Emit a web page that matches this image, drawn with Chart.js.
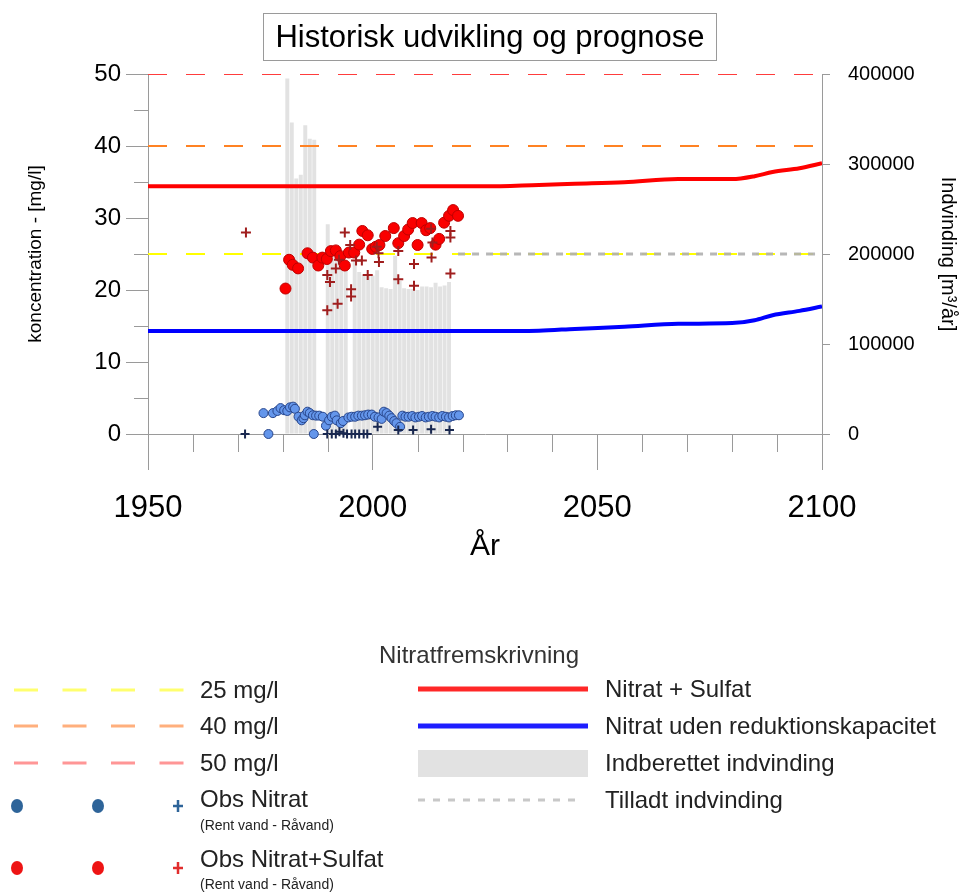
<!DOCTYPE html>
<html>
<head>
<meta charset="utf-8">
<script src="https://cdn.jsdelivr.net/npm/chart.js@4/dist/chart.umd.min.js"></script>
<style>
html,body{margin:0;padding:0;background:#ffffff;}
#wrap{width:960px;height:892px;position:relative;}
</style>
</head>
<body>
<div id="wrap"><canvas id="c" width="960" height="892"></canvas></div>
<script>
// ---------- DATA ----------
const chartTitle = 'Historisk udvikling og prognose';
const xTitle = 'År';
const yTitle = 'koncentration - [mg/l]';
const y2Title = 'Indvinding [m³/år]';
const legendTitle = 'Nitratfremskrivning';

const xTickValues = [1950, 2000, 2050, 2100];
const xMinorTicks = [1960, 1970, 1980, 1990, 2010, 2020, 2030, 2040, 2060, 2070, 2080, 2090];
const yTickValues = [0, 10, 20, 30, 40, 50];
const yMinorTicks = [5, 15, 25, 35, 45];
const y2TickValues = [0, 100000, 200000, 300000, 400000];

// Reported abstraction (m3/year), bars
const barYears = [1981,1982,1983,1984,1985,1986,1987,1988,1989,1990,1991,1992,1993,1994,1995,1996,1997,1998,1999,2000,2001,2002,2003,2004,2005,2006,2007,2008,2009,2010,2011,2012,2013,2014,2015,2016,2017];
const barValues = [395000,346000,284000,288000,343000,328000,327000,0,0,233000,200000,198000,195000,188000,0,193000,180000,177000,176000,176000,182000,163000,162000,161000,198000,170000,162000,161000,161000,160000,164000,164000,163000,168000,164000,165000,169000];

// Permitted abstraction
const tilladtYears = [2019, 2100];
const tilladtValues = [200000, 200000];

// Limit lines
const limitYears = [1950, 2100];
const limitValues = [25, 40, 50];
const limitLabels = ['25 mg/l', '40 mg/l', '50 mg/l'];

// Projections
const projYears = [1950, 2025, 2037, 2045, 2056, 2068, 2080, 2085, 2089, 2095, 2100];
const projNitratSulfat = [34.4, 34.4, 34.6, 34.75, 34.95, 35.4, 35.4, 35.8, 36.4, 36.9, 37.6];
const projNitrat = [14.3, 14.3, 14.35, 14.6, 14.9, 15.3, 15.4, 15.8, 16.5, 17.1, 17.7];

// Observations Nitrat (rent vand = circles, råvand = crosses)
const obsNitratYears = [1975.7,1976.8,1977.8,1978.8,1979.5,1980.3,1981.0,1981.6,1982.3,1982.7,1983.5,1984.2,1984.6,1984.9,1985.5,1986.0,1986.7,1986.9,1987.4,1988.1,1988.9,1989.6,1990.3,1990.9,1991.6,1992.0,1992.9,1993.4,1994.6,1995.3,1996.1,1996.8,1997.6,1998.3,1999.0,1999.8,2000.5,2001.3,2002.0,2002.5,2003.1,2003.7,2004.2,2004.8,2005.3,2006.1,2006.6,2007.3,2008.0,2008.8,2009.5,2010.3,2011.0,2011.8,2012.5,2013.3,2014.0,2014.8,2015.5,2016.3,2017.0,2017.8,2018.5,2019.2];
const obsNitratValues = [2.9,0.0,2.9,3.2,3.6,3.3,3.2,3.7,3.8,3.5,2.4,1.9,2.2,2.6,3.1,2.9,2.6,0.0,2.55,2.55,2.4,1.15,1.9,2.4,2.55,1.9,1.5,1.8,2.3,2.4,2.4,2.55,2.55,2.6,2.7,2.7,2.4,2.3,2.1,3.1,2.9,2.55,2.2,1.8,1.5,1.0,2.55,2.4,2.4,2.5,2.3,2.4,2.5,2.3,2.4,2.5,2.4,2.3,2.5,2.4,2.3,2.5,2.6,2.6];
const obsNitratRaaYears = [1971.6,1989.9,1990.9,1991.8,1992.6,1993.5,1994.3,1995.3,1996.1,1997.0,1998.0,1998.8,2001.1,2005.7,2009.0,2013.0,2017.1];
const obsNitratRaaValues = [0,0,0,0,0.3,0.1,0,0,0,0,0,0,1.0,0.55,0.55,0.65,0.55];

// Observations Nitrat+Sulfat
const obsSulfatYears = [1980.6,1981.4,1982.2,1983.4,1985.5,1986.7,1987.9,1988.8,1989.8,1990.7,1991.8,1992.8,1993.8,1994.7,1995.9,1997.0,1997.7,1998.9,1999.9,2000.7,2001.5,2002.8,2004.7,2005.7,2007.0,2007.9,2008.9,2010.0,2010.9,2011.9,2012.8,2014.0,2014.8,2015.9,2017.0,2017.9,2019.0];
const obsSulfatValues = [20.2,24.2,23.5,23.0,25.1,24.5,23.4,24.5,24.3,25.4,25.5,24.7,23.4,25.2,25.2,26.3,28.2,27.6,25.7,26.0,26.25,27.5,28.6,26.5,27.5,28.4,29.3,26.25,29.3,28.3,28.6,26.3,27.1,29.35,30.3,31.1,30.3];
const obsSulfatRaaYears = [1971.8,1989.9,1990.5,1989.9,1992.2,1991.8,1992.5,1993.8,1995.0,1995.2,1995.2,1996.3,1997.6,1998.9,2000.9,2001.3,2001.4,2005.7,2005.7,2009.2,2009.2,2013.0,2013.3,2013.1,2017.3,2017.3,2017.3];
const obsSulfatRaaValues = [28.0,22.1,21.1,17.2,18.1,23.0,24.2,28.0,26.25,20.1,19.1,24.1,24.1,22.1,26.0,25.1,23.9,25.4,21.5,23.6,20.6,28.5,26.6,24.5,28.2,27.3,22.3];

// ---------- STYLE ----------
const FONT = '"Liberation Sans", Arial, Helvetica, sans-serif';
const AXIS_GRAY = '#9a9a9a';
const limitColors = ['rgb(255,255,0)', 'rgb(255,130,35)', 'rgb(255,60,60)'];
const limitLegendColors = ['rgb(255,255,110)', 'rgb(255,175,125)', 'rgb(255,150,150)'];

function toXY(xs, ys) { return xs.map((x, i) => ({x: x, y: ys[i]})); }

const datasets = [];
datasets.push({
  type: 'scatter', label: 'Obs Nitrat+Sulfat (Råvand)',
  data: toXY(obsSulfatRaaYears, obsSulfatRaaValues),
  pointStyle: 'cross', pointRadius: 5, pointBorderWidth: 2,
  borderColor: 'rgb(160,30,30)', backgroundColor: 'rgb(160,30,30)',
  yAxisID: 'y', order: 1, clip: false
});
datasets.push({
  type: 'scatter', label: 'Obs Nitrat+Sulfat (Rent vand)',
  data: toXY(obsSulfatYears, obsSulfatValues),
  pointStyle: 'circle', pointRadius: 5.5, pointBorderWidth: 1,
  borderColor: 'rgb(190,0,0)', backgroundColor: 'rgb(250,0,0)',
  yAxisID: 'y', order: 2, clip: false
});
datasets.push({
  type: 'scatter', label: 'Obs Nitrat (Råvand)',
  data: toXY(obsNitratRaaYears, obsNitratRaaValues),
  pointStyle: 'cross', pointRadius: 4.5, pointBorderWidth: 2,
  borderColor: 'rgb(25,40,80)', backgroundColor: 'rgb(25,40,80)',
  yAxisID: 'y', order: 3, clip: false
});
datasets.push({
  type: 'scatter', label: 'Obs Nitrat (Rent vand)',
  data: toXY(obsNitratYears, obsNitratValues),
  pointStyle: 'circle', pointRadius: 4.5, pointBorderWidth: 1,
  borderColor: 'rgb(40,70,140)', backgroundColor: 'rgb(100,150,235)',
  yAxisID: 'y', order: 4, clip: false
});
datasets.push({
  type: 'line', label: 'Nitrat + Sulfat',
  data: toXY(projYears, projNitratSulfat),
  borderColor: 'rgb(255,0,0)', borderWidth: 4, pointRadius: 0,
  cubicInterpolationMode: 'monotone', fill: false,
  yAxisID: 'y', order: 5
});
datasets.push({
  type: 'line', label: 'Nitrat uden reduktionskapacitet',
  data: toXY(projYears, projNitrat),
  borderColor: 'rgb(0,0,255)', borderWidth: 4, pointRadius: 0,
  cubicInterpolationMode: 'monotone', fill: false,
  yAxisID: 'y', order: 5
});
datasets.push({
  type: 'line', label: 'Tilladt indvinding',
  data: toXY(tilladtYears, tilladtValues),
  borderColor: 'rgba(175,175,175,0.9)', borderWidth: 3, borderDash: [7, 7], pointRadius: 0,
  fill: false, yAxisID: 'y2', order: 6
});
limitValues.forEach((v, i) => {
  datasets.push({
    type: 'line', label: limitLabels[i],
    data: limitYears.map(x => ({x: x, y: v})),
    borderColor: limitColors[i], borderWidth: 2, borderDash: [19, 19], pointRadius: 0,
    fill: false, yAxisID: 'y', order: 7
  });
});
datasets.push({
  type: 'bar', label: 'Indberettet indvinding',
  data: toXY(barYears, barValues),
  backgroundColor: 'rgb(226,226,226)', borderWidth: 0,
  barPercentage: 0.88, categoryPercentage: 1.0,
  yAxisID: 'y2', order: 10
});

// ---------- PLUGINS ----------
const decorPlugin = {
  id: 'decor',
  afterDraw(chart) {
    const ctx = chart.ctx;
    const xs = chart.scales.x, ys = chart.scales.y;
    const area = chart.chartArea;
    ctx.save();
    // minor ticks
    ctx.strokeStyle = AXIS_GRAY; ctx.lineWidth = 1;
    xMinorTicks.forEach(v => {
      const px = Math.round(xs.getPixelForValue(v)) + 0.5;
      ctx.beginPath(); ctx.moveTo(px, area.bottom); ctx.lineTo(px, area.bottom + 18); ctx.stroke();
    });
    yMinorTicks.forEach(v => {
      const py = Math.round(ys.getPixelForValue(v)) + 0.5;
      ctx.beginPath(); ctx.moveTo(area.left - 14, py); ctx.lineTo(area.left, py); ctx.stroke();
    });
    // title box
    ctx.strokeStyle = '#9a9a9a'; ctx.lineWidth = 1;
    ctx.strokeRect(263.5, 13.5, 453, 47);
    ctx.fillStyle = '#000';
    ctx.font = '31px ' + FONT;
    ctx.textAlign = 'center'; ctx.textBaseline = 'middle';
    ctx.fillText(chartTitle, 490, 38);

    // legend
    ctx.fillStyle = '#333';
    ctx.font = '24px ' + FONT;
    ctx.fillText(legendTitle, 479, 656);

    ctx.textAlign = 'left';
    const lx0 = 14, lx1 = 184, ltx = 200;
    const rowsY = [690, 726, 763];
    limitLabels.forEach((lab, i) => {
      ctx.save();
      ctx.strokeStyle = limitLegendColors[i]; ctx.lineWidth = 3;
      ctx.setLineDash([24, 24.5]);
      ctx.beginPath(); ctx.moveTo(lx0, rowsY[i]); ctx.lineTo(lx1, rowsY[i]); ctx.stroke();
      ctx.restore();
      ctx.fillStyle = '#222'; ctx.font = '24px ' + FONT;
      ctx.fillText(lab, ltx, rowsY[i] + 1);
    });
    function dot(x, y, col) {
      ctx.fillStyle = col; ctx.beginPath(); ctx.ellipse(x, y, 6, 7, 0, 0, Math.PI * 2); ctx.fill();
    }
    function plus(x, y, col) {
      ctx.strokeStyle = col; ctx.lineWidth = 2.5;
      ctx.beginPath(); ctx.moveTo(x - 5, y); ctx.lineTo(x + 5, y); ctx.moveTo(x, y - 6); ctx.lineTo(x, y + 6); ctx.stroke();
    }
    const blueL = 'rgb(46,100,153)';
    dot(17, 806, blueL); dot(98, 806, blueL); plus(178, 806, blueL);
    const redL = 'rgb(238,20,20)';
    dot(17, 868, redL); dot(98, 868, redL); plus(178, 868, 'rgb(225,45,45)');
    ctx.fillStyle = '#222';
    ctx.font = '24px ' + FONT;
    ctx.fillText('Obs Nitrat', ltx, 800);
    ctx.fillText('Obs Nitrat+Sulfat', ltx, 860);
    ctx.font = '14px ' + FONT;
    ctx.fillText('(Rent vand - Råvand)', ltx, 826);
    ctx.fillText('(Rent vand - Råvand)', ltx, 885);

    const rx0 = 418, rx1 = 588, rtx = 605;
    ctx.lineWidth = 5; ctx.setLineDash([]);
    ctx.strokeStyle = 'rgb(255,40,40)';
    ctx.beginPath(); ctx.moveTo(rx0, 689); ctx.lineTo(rx1, 689); ctx.stroke();
    ctx.strokeStyle = 'rgb(30,30,255)';
    ctx.beginPath(); ctx.moveTo(rx0, 726); ctx.lineTo(rx1, 726); ctx.stroke();
    ctx.fillStyle = 'rgb(226,226,226)';
    ctx.fillRect(rx0, 750, rx1 - rx0, 27);
    ctx.save();
    ctx.strokeStyle = 'rgb(200,200,200)'; ctx.lineWidth = 3; ctx.setLineDash([7, 8]);
    ctx.beginPath(); ctx.moveTo(rx0, 800); ctx.lineTo(582, 800); ctx.stroke();
    ctx.restore();
    ctx.fillStyle = '#222'; ctx.font = '24px ' + FONT;
    ctx.fillText('Nitrat + Sulfat', rtx, 690);
    ctx.fillText('Nitrat uden reduktionskapacitet', rtx, 727);
    ctx.fillText('Indberettet indvinding', rtx, 764);
    ctx.fillText('Tilladt indvinding', rtx, 801);
    ctx.restore();
  }
};

// ---------- CHART ----------
new Chart(document.getElementById('c'), {
  type: 'scatter',
  data: { datasets: datasets },
  options: {
    responsive: false,
    animation: false,
    devicePixelRatio: 1,
    layout: { padding: { top: 74, left: 0, right: 0, bottom: 327 } },
    plugins: { legend: { display: false }, tooltip: { enabled: false }, title: { display: false } },
    scales: {
      x: {
        type: 'linear', position: 'bottom', min: 1950, max: 2100, offset: false,
        afterFit: s => { s.height = 131; },
        afterBuildTicks: s => { s.ticks = xTickValues.map(v => ({value: v})); },
        ticks: { callback: v => String(v), font: { family: FONT, size: 31 }, color: '#000', padding: 20, maxRotation: 0, autoSkip: false },
        grid: { drawOnChartArea: false, drawTicks: true, tickLength: 36, tickColor: AXIS_GRAY, offset: false },
        border: { display: true, color: AXIS_GRAY },
        title: { display: true, text: xTitle, font: { family: FONT, size: 30 }, color: '#000', padding: { top: 0, bottom: 0 } }
      },
      y: {
        type: 'linear', position: 'left', min: 0, max: 50,
        afterFit: s => { s.width = 148; },
        afterBuildTicks: s => { s.ticks = yTickValues.map(v => ({value: v})); },
        ticks: { callback: v => String(v), font: { family: FONT, size: 24 }, color: '#000', padding: 5 },
        grid: { drawOnChartArea: false, drawTicks: true, tickLength: 22, tickColor: AXIS_GRAY },
        border: { display: true, color: AXIS_GRAY },
        title: { display: true, text: yTitle, font: { family: FONT, size: 19 }, color: '#000', padding: { top: 24, bottom: 0 } }
      },
      y2: {
        type: 'linear', position: 'right', min: 0, max: 400000,
        afterFit: s => { s.width = 138; },
        afterBuildTicks: s => { s.ticks = y2TickValues.map(v => ({value: v})); },
        ticks: { callback: v => String(v), font: { family: FONT, size: 20 }, color: '#000', padding: 18 },
        grid: { drawOnChartArea: false, drawTicks: true, tickLength: 8, tickColor: AXIS_GRAY },
        border: { display: true, color: AXIS_GRAY },
        title: { display: true, text: y2Title, font: { family: FONT, size: 20 }, color: '#000', padding: { top: 0, bottom: 0 } }
      }
    }
  },
  plugins: [decorPlugin]
});
</script>
</body>
</html>
